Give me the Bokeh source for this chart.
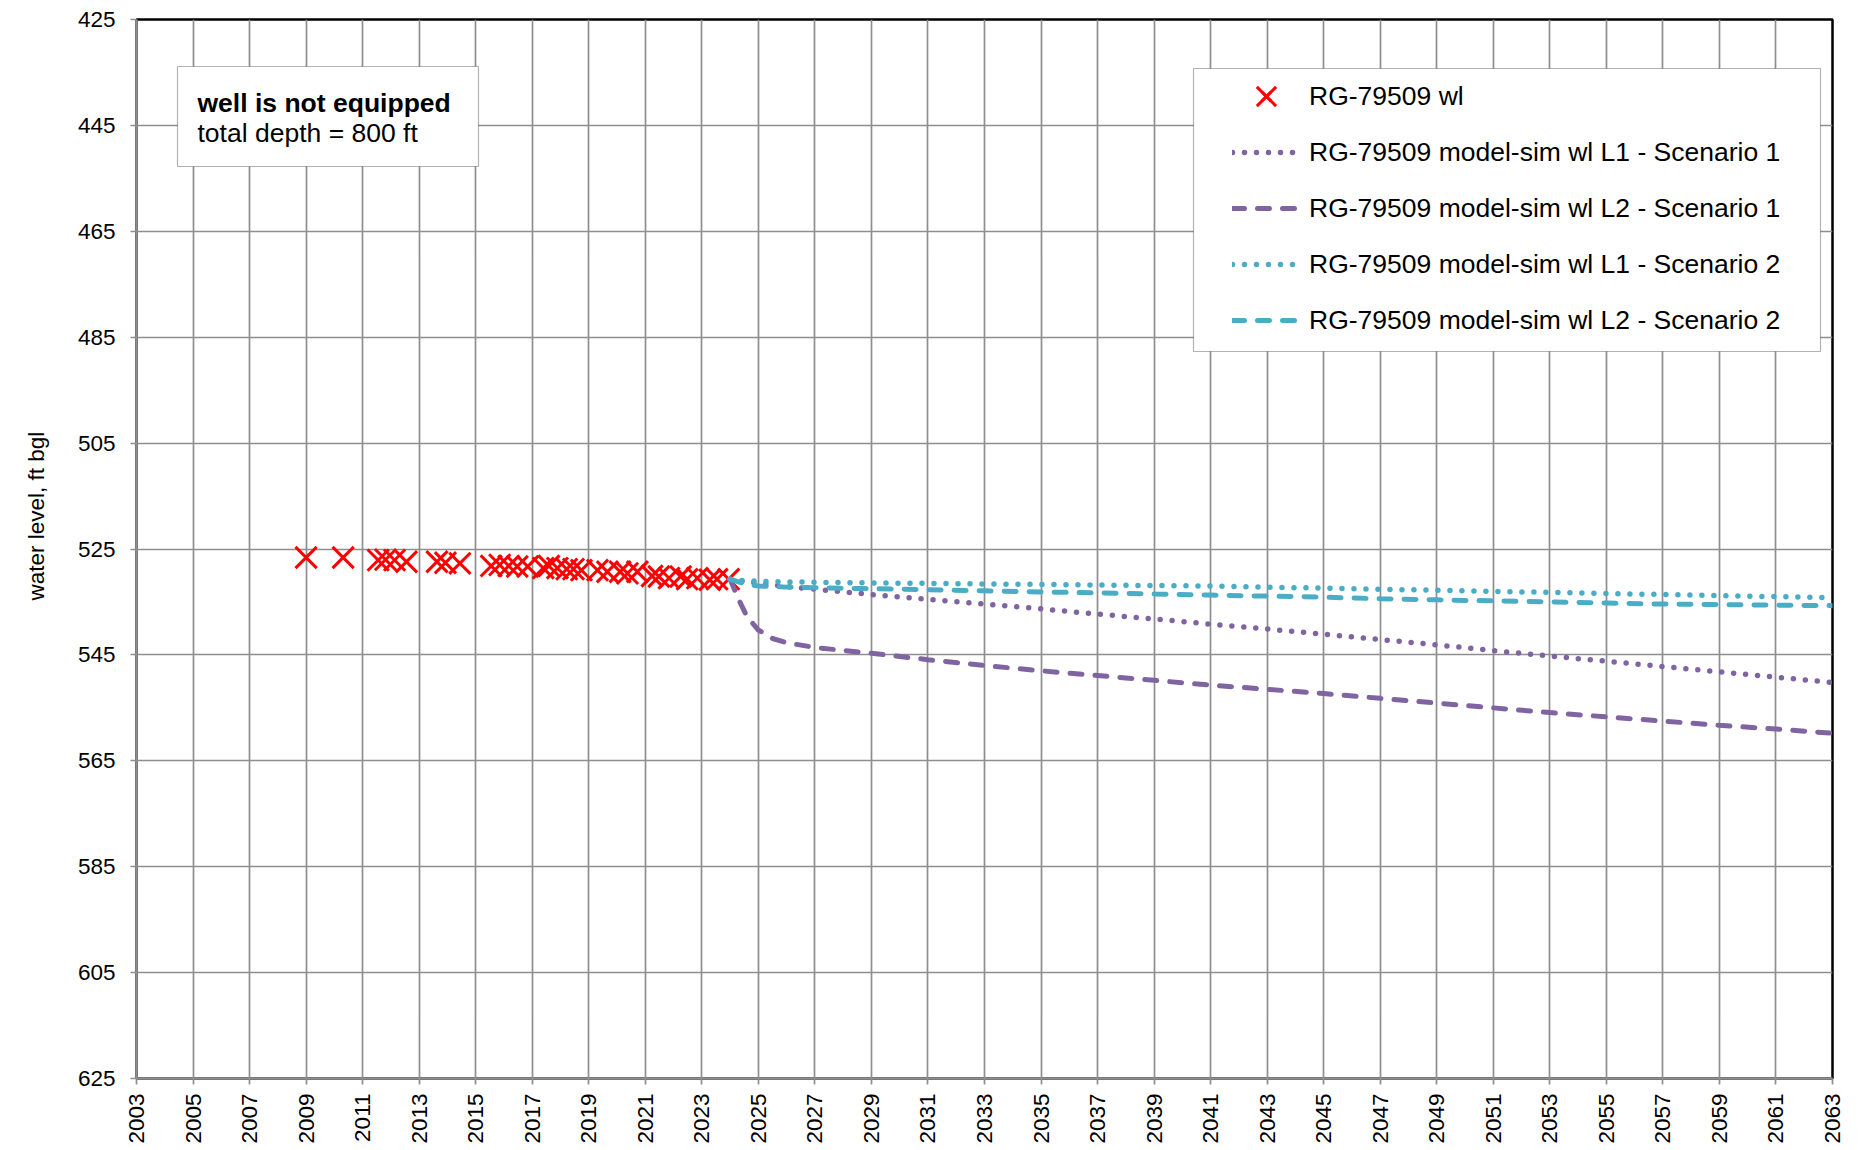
import math
from bokeh.plotting import figure
from bokeh.models import Range1d, Legend, LegendItem, Label, BoxAnnotation, Title
from bokeh.embed import file_html
from bokeh.resources import INLINE

# ---------------- data ----------------
obs_year = [2009.00, 2010.31, 2011.55, 2011.81, 2012.13, 2012.55, 2013.63, 2013.93, 2014.44,
            2015.55, 2015.85, 2016.17, 2016.47, 2016.84, 2017.39, 2017.59, 2017.89, 2018.22,
            2018.46, 2018.74, 2019.31, 2019.66, 2020.11, 2020.37, 2020.72, 2021.24, 2021.48,
            2021.84, 2022.25, 2022.48, 2022.84, 2023.28, 2023.54, 2023.95]
obs_wl = [526.6, 526.6, 527.1, 527.0, 527.1, 527.4, 527.4, 527.6, 527.7,
          528.2, 528.0, 528.2, 528.3, 528.3, 528.6, 528.2, 528.6, 528.8,
          528.8, 529.0, 529.0, 529.3, 529.3, 529.6, 529.3, 530.1, 530.2,
          530.5, 530.2, 530.7, 530.5, 530.8, 530.7, 530.7]

sim_year = [2024.0, 2024.3, 2024.6, 2025.0, 2025.5, 2026.0, 2027, 2029, 2031, 2033, 2035, 2037,
            2039, 2041, 2043, 2045, 2047, 2049, 2051, 2053, 2055, 2057, 2059, 2061, 2063]
l1_s1 = [530.7, 531.0, 531.2, 531.5, 531.8, 532.1, 532.6, 533.6, 534.5, 535.4, 536.3, 537.3,
         538.2, 539.2, 540.1, 541.1, 542.1, 543.1, 544.2, 545.2, 546.2, 547.2, 548.2, 549.2, 550.2]
l2_s1 = [530.7, 534.5, 537.8, 540.3, 541.9, 542.7, 543.6, 544.7, 545.9, 547.0, 548.0, 548.9,
         549.8, 550.7, 551.5, 552.3, 553.2, 554.1, 555.0, 555.9, 556.7, 557.5, 558.3, 559.0, 559.8]
l1_s2 = [530.7, 530.9, 531.0, 531.1, 531.2, 531.2, 531.3, 531.4, 531.5, 531.6, 531.7, 531.8,
         531.9, 532.0, 532.2, 532.4, 532.6, 532.8, 533.0, 533.2, 533.4, 533.6, 533.8, 534.0, 534.2]
l2_s2 = [530.7, 531.2, 531.7, 532.0, 532.1, 532.2, 532.3, 532.5, 532.7, 532.9, 533.1, 533.3,
         533.5, 533.7, 533.9, 534.1, 534.4, 534.6, 534.8, 535.0, 535.2, 535.4, 535.5, 535.6, 535.7]

y_ticks = list(range(425, 626, 20))
x_ticks = list(range(2003, 2064, 2))

series_labels = ["RG-79509 wl",
                 "RG-79509 model-sim wl L1 - Scenario 1",
                 "RG-79509 model-sim wl L2 - Scenario 1",
                 "RG-79509 model-sim wl L1 - Scenario 2",
                 "RG-79509 model-sim wl L2 - Scenario 2"]
note_title = "well is not equipped"
note_text = "total depth = 800 ft"
y_title = "water level, ft bgl"

# ---------------- style ----------------
FONT = "Liberation Sans"
PURPLE = "#8064A2"
CYAN = "#4BACC6"
GRID = "#8e8e8e"

X0, X1, Y0, Y1 = 2003, 2063, 425, 625
FR_LEFT, FR_TOP, FR_W, FR_H = 136, 19, 1696, 1059


def px_to_x(px):
    return X0 + (px - FR_LEFT) * (X1 - X0) / FR_W


def py_to_y(py):
    return Y0 + (py - FR_TOP) * (Y1 - Y0) / FR_H


p = figure(width=1858, height=1150, output_backend="svg", toolbar_location=None,
           x_range=Range1d(X0, X1), y_range=Range1d(Y1, Y0),
           min_border_left=136, min_border_right=26, min_border_top=19, min_border_bottom=72,
           background_fill_color="white", border_fill_color="white")

p.outline_line_color = "black"
p.outline_line_width = 2.5

p.xaxis.ticker = x_ticks
p.yaxis.ticker = y_ticks
p.xaxis.major_label_orientation = math.pi / 2
for ax in (p.xaxis[0], p.yaxis[0]):
    ax.axis_line_color = GRID
    ax.axis_line_width = 2.5
    ax.major_tick_line_color = GRID
    ax.major_tick_line_width = 1.7
    ax.major_tick_in = 0
    ax.major_tick_out = 6
    ax.minor_tick_line_color = None
    ax.major_label_text_font = FONT
    ax.major_label_text_font_size = "22.5px"
    ax.major_label_text_color = "black"
p.xaxis.major_label_standoff = 9
p.yaxis.major_label_standoff = 15

# y-axis title as a side title, so it can sit at the same height as in the original
p.add_layout(Title(text=y_title, align="left", offset=478, vertical_align="top", standoff=47,
                   text_font=FONT, text_font_size="22.5px", text_font_style="normal",
                   text_color="black"), "left")

p.xgrid.grid_line_color = GRID
p.ygrid.grid_line_color = GRID
p.xgrid.grid_line_width = 1.7
p.ygrid.grid_line_width = 1.7

r_obs = p.scatter(obs_year, obs_wl, marker="x", size=30, line_color="red", line_width=3)
r11 = p.line(sim_year, l1_s1, line_color=PURPLE, line_width=5.5, line_dash="0 12", line_cap="round")
r21 = p.line(sim_year, l2_s1, line_color=PURPLE, line_width=5, line_dash="12 13", line_cap="round")
r12 = p.line(sim_year, l1_s2, line_color=CYAN, line_width=5.5, line_dash="0 12", line_cap="round")
r22 = p.line(sim_year, l2_s2, line_color=CYAN, line_width=5, line_dash="12 13", line_cap="round")

# legend frame (white box with black border)
p.add_layout(BoxAnnotation(left=px_to_x(1193), right=px_to_x(1820),
                           top=py_to_y(68), bottom=py_to_y(351),
                           fill_color="white", fill_alpha=1.0,
                           line_color="black", line_width=1.2))

legend = Legend(items=[LegendItem(label=lab, renderers=[r]) for lab, r in
                       zip(series_labels, [r_obs, r11, r21, r12, r22])],
                location=(1232 - FR_LEFT, FR_TOP + FR_H - 336), margin=0, padding=0, spacing=24,
                glyph_width=68, glyph_height=32, label_height=32, label_width=20,
                label_standoff=9, label_text_font=FONT, label_text_font_size="26.5px",
                label_text_color="black", border_line_color=None,
                background_fill_alpha=0.0)
p.add_layout(legend)

# larger cross for the observed-series legend entry
legend_x = Legend(items=[LegendItem(label="", renderers=[r_obs])],
                  location=(1232 - FR_LEFT, FR_TOP + FR_H - 131), margin=0, padding=0,
                  spacing=0, glyph_width=68, glyph_height=70, label_height=10,
                  label_width=0, label_standoff=0, border_line_color=None,
                  background_fill_alpha=0.0, label_text_font_size="10px")
p.add_layout(legend_x)

# note box
p.add_layout(BoxAnnotation(left=px_to_x(177), right=px_to_x(478),
                           top=py_to_y(66), bottom=py_to_y(166),
                           fill_color="white", fill_alpha=1.0,
                           line_color="black", line_width=1.2))
p.add_layout(Label(x=px_to_x(197), y=py_to_y(102), text=note_title, text_font=FONT,
                   text_font_style="bold", text_font_size="26.5px", text_baseline="middle",
                   text_color="black"))
p.add_layout(Label(x=px_to_x(197), y=py_to_y(132), text=note_text, text_font=FONT,
                   text_font_size="26.5px", text_baseline="middle", text_color="black"))

open("out.html", "w").write(file_html(p, INLINE))
